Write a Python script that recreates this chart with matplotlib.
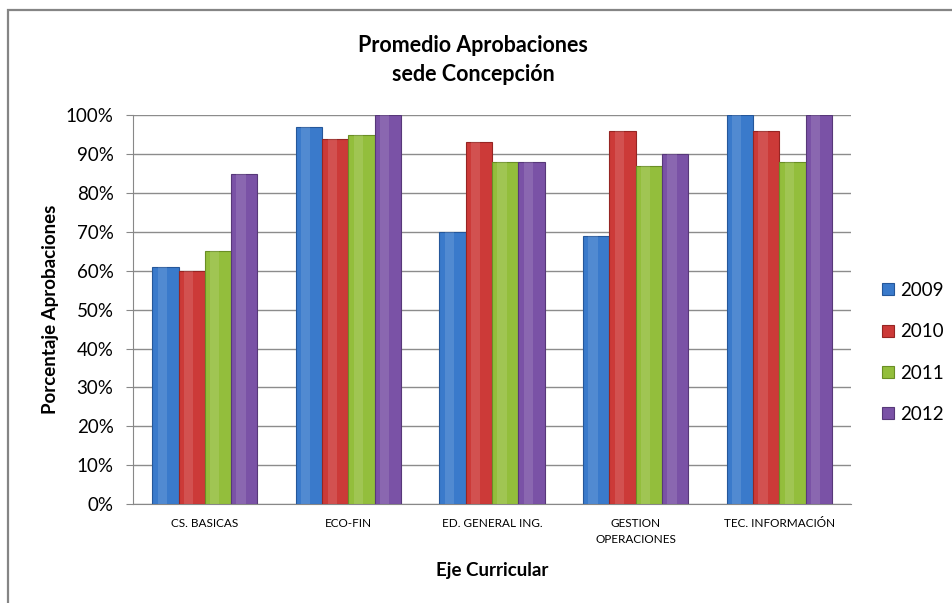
import matplotlib.pyplot as plt
import matplotlib.patches as mpatches
import numpy as np
from matplotlib.ticker import PercentFormatter

plt.rcParams['font.family'] = ['Lato', 'DejaVu Sans']

categories = ["CS. BASICAS", "ECO-FIN", "ED. GENERAL ING.", "GESTION\nOPERACIONES", "TEC. INFORMACIÓN"]
years = ["2009", "2010", "2011", "2012"]
v2009 = [61, 97, 70, 69, 100]
v2010 = [60, 94, 93, 96, 96]
v2011 = [65, 95, 88, 87, 88]
v2012 = [85, 100, 88, 90, 100]
series = [v2009, v2010, v2011, v2012]

colors = ["#3A7ACB", "#CC3A38", "#93BE3C", "#7A52A6"]
edges = ["#25579A", "#962523", "#6A8E25", "#573879"]

fig = plt.figure(figsize=(9.52, 6.03), dpi=100)
ax = fig.add_axes([0.1397, 0.164, 0.7543, 0.645])

# outer chart frame (cut off at right and bottom like the reference)
fig.patches.append(mpatches.Rectangle((8 / 952, -0.05), 1.2, (603 - 10) / 603 + 0.05,
                                      transform=fig.transFigure, fill=False,
                                      edgecolor="#858585", lw=1.6))

x = np.arange(len(categories))
w = 0.183
for i, (vals, c, ec) in enumerate(zip(series, colors, edges)):
    pos = x + (i - 1.5) * w
    ax.bar(pos, vals, w, color=c, edgecolor=ec, lw=0.8, label=years[i], zorder=3)
    # light highlight strip for the bevelled look
    ax.bar(pos - w * 0.12, vals, w * 0.35, color="white", alpha=0.12, lw=0, zorder=4)

ax.set_xlim(-0.5, len(categories) - 0.5)
ax.set_ylim(0, 100)
ax.set_yticks(np.arange(0, 101, 10))
ax.yaxis.set_major_formatter(PercentFormatter(decimals=0))
ax.set_xticks(x)
ax.set_xticklabels(categories, fontsize=8.5, linespacing=1.6)
ax.tick_params(axis="x", length=0, pad=10)
ax.tick_params(axis="y", labelsize=13.5, length=5, color="#888888", pad=9)

ax.grid(axis="y", color="#8c8c8c", lw=1, zorder=0)
for s in ["top", "right"]:
    ax.spines[s].set_visible(False)
ax.spines["left"].set_color("#888888")
ax.spines["bottom"].set_color("#888888")

ax.set_ylabel("Porcentaje Aprobaciones", fontsize=13.5, fontweight="bold", labelpad=5)
ax.set_xlabel("Eje Curricular", fontsize=13.5, fontweight="bold", labelpad=12)
fig.text(0.497, 0.901, "Promedio Aprobaciones\nsede Concepción", ha="center", va="center",
         fontsize=15.5, fontweight="bold", linespacing=1.45)

ax.legend(loc="center left", bbox_to_anchor=(1.02, 0.39), frameon=False, fontsize=13.5,
          handlelength=0.6, handleheight=0.6, handletextpad=0.35, labelspacing=1.3)

fig.savefig("out.png", dpi=100)
